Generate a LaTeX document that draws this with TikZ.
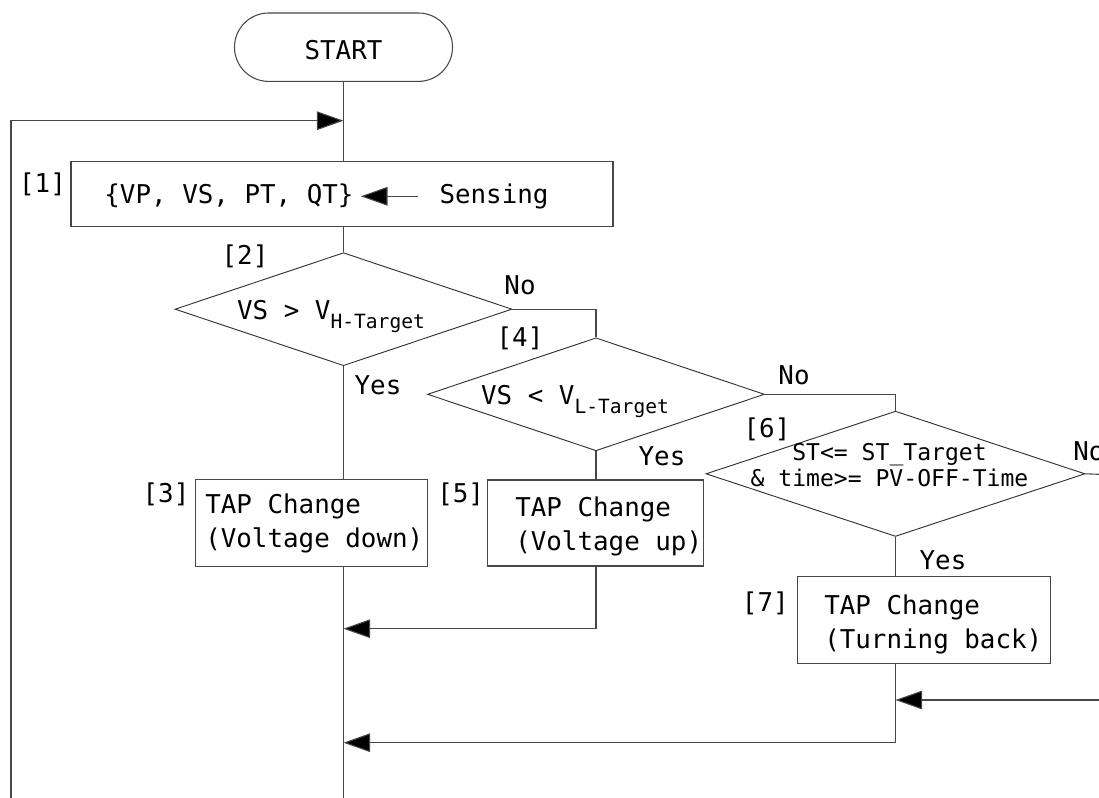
\documentclass[tikz,border=0pt]{standalone}
\usepackage{fontspec}
\setmonofont{DejaVu Sans Mono}
\usetikzlibrary{arrows.meta,shapes.geometric}

% one drawing unit = one pixel of the 1099 x 798 canvas
\newcommand\pxu{0.75pt}
\newcommand\subtag[1]{\raisebox{-6.75pt}{\fontsize{14.7pt}{16pt}\selectfont #1}}

\tikzset{
  every node/.style={font=\ttfamily\fontsize{19.4pt}{25pt}\selectfont, inner sep=0pt, text=black},
  link/.style={draw=black!72, line width=0.8pt},
  flow/.style={link, -{Triangle[length=20pt,width=14pt,fill=black]}},
  stepbox/.style 2 args={draw=black!72, line width=0.8pt, rectangle,
    minimum width=#1*\pxu, minimum height=#2*\pxu},
  decision/.style 2 args={draw=black!80, line width=0.7pt, diamond,
    minimum width=#1*\pxu, minimum height=#2*\pxu},
  terminal/.style={draw=black!72, line width=0.8pt, rectangle,
    rounded corners=25.6pt, minimum width=218*\pxu, minimum height=68.4*\pxu},
  small/.style={font=\ttfamily\fontsize{17.3pt}{20pt}\selectfont},
}

\begin{document}
\begin{tikzpicture}[x=0.75pt,y=-0.75pt]
\useasboundingbox (0,0) rectangle (1099,798);
\clip (0,0) rectangle (1099,798);

% start
\node[terminal] (start) at (343.5,47.2) {};
\node[anchor=base] (startlbl) at (343.5,60) {START};

% [1] sensing
\node[stepbox={542}{64.8}] (b1) at (342,194.1) {};
\node[anchor=base] (set) at (229,204) {\{VP, VS, PT, QT\}};
\node[anchor=base] (sens) at (494,204) {Sensing};
\node[anchor=base] (n1) at (42.5,193) {[1]};

% decisions
\node[decision={337}{113}] (d2) at (343.5,309.2) {};
\node[anchor=base] (d2lbl) at (331,320) {VS > V\subtag{H-Target}};
\node[anchor=base] (n2) at (245,265) {[2]};

\node[decision={337}{113}] (d4) at (596,394.3) {};
\node[anchor=base] (d4lbl) at (575,404) {VS < V\subtag{L-Target}};
\node[anchor=base] (n4) at (520,347) {[4]};

\node[decision={379}{125.3}] (d6) at (895.5,473.8) {};
\node[anchor=base, small, align=center] (d6lbl) at (889.5,486.7)
  {ST<= ST\_Target\\\& time>= PV-OFF-Time};
\node[anchor=base] (n6) at (767,437) {[6]};

% actions
\node[stepbox={232}{86.7}] (b3) at (311.7,522.7) {};
\node[anchor=base west, align=left] (b3lbl) at (205,547.3) {TAP Change\\(Voltage down)};
\node[anchor=base] (n3) at (166,502) {[3]};

\node[stepbox={216.4}{86}] (b5) at (595.5,523) {};
\node[anchor=base west, align=left] (b5lbl) at (515,550) {TAP Change\\(Voltage up)};
\node[anchor=base] (n5) at (460.7,502) {[5]};

\node[stepbox={253.4}{87}] (b7) at (924,620.2) {};
\node[anchor=base west, align=left] (b7lbl) at (824,648.3) {TAP Change\\(Turning back)};
\node[anchor=base] (n7) at (765.3,611) {[7]};

% branch labels
\node[anchor=base] (no2) at (520,295) {No};
\node[anchor=base] (yes2) at (378,394) {Yes};
\node[anchor=base] (no4) at (794,385) {No};
\node[anchor=base] (yes4) at (662,465) {Yes};
\node[anchor=base] (yes6) at (943,569) {Yes};
\node[anchor=base west] (no6) at (1073,460) {No};

% free ends and junctions on the main line
\coordinate (loopbot) at (11,798);
\coordinate (loopin) at (343.5,120.7);
\coordinate (mainbot) at (343.5,798);
\coordinate (j5) at (343.5,628.7);
\coordinate (j7) at (343.5,742.7);
\coordinate (j6) at (895.5,700);
\coordinate (rin) at (1099,700);
\coordinate (rout) at (1099,474.3);

% connectors
\draw[link] (start.south) -- (start.south |- b1.north);
\draw[flow] (loopbot) |- (loopin);
\draw[flow, shorten <=21*\pxu, shorten >=7*\pxu] (sens.west |- set.east) -- (set.east);
\draw[link] (d2.north |- b1.south) -- (d2.north);
\draw[link] (d2.east) -| (d4.north);
\draw[link] (d4.east) -| (d6.north);
\draw[link] (d2.south) -- (d2.south |- b3.north);
\draw[link] (d4.south) -- (d4.south |- b5.north);
\draw[link] (d6.south) -- (d6.south |- b7.north);
\draw[link] (d2.south |- b3.south) -- (mainbot);
\draw[flow] (d4.south |- b5.south) |- (j5);
\draw[flow] (d6.south |- b7.south) |- (j7);
\draw[flow] (rin) -- (j6);
\draw[link] (d6.east) -- (rout);
\end{tikzpicture}
\end{document}
